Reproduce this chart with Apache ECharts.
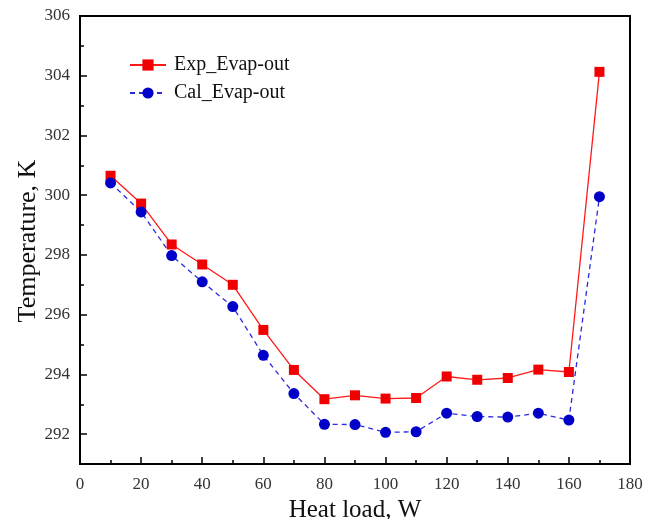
<!DOCTYPE html>
<html><head><meta charset="utf-8">
<script src="https://cdn.jsdelivr.net/npm/echarts@6/dist/echarts.min.js"></script>
<style>html,body{margin:0;padding:0;background:#fff}#c{width:658px;height:519px}</style>
</head><body><div id="c"></div>
<script>
const heatLoad = [10,20,30,40,50,60,70,80,90,100,110,120,130,140,150,160,170];
const expEvapOut = [300.65,299.72,298.35,297.68,297.0,295.49,294.15,293.17,293.30,293.19,293.21,293.93,293.82,293.88,294.16,294.08,304.13];
const calEvapOut = [300.41,299.44,297.98,297.10,296.27,294.64,293.36,292.33,292.32,292.06,292.08,292.70,292.59,292.57,292.70,292.47,299.95];
const yMajorTicks = [292,294,296,298,300,302,304,306];
const yMinorTicks = [291,293,295,297,299,301,303,305];
const xTitle = 'Heat load, W';
const yTitle = 'Temperature, K';
const seriesNames = ['Exp_Evap-out','Cal_Evap-out'];

const FONT = '"Liberation Serif", "Times New Roman", serif';
const chart = echarts.init(document.getElementById('c'));
chart.setOption({
  animation: false,
  backgroundColor: '#fff',
  grid: {left: 80, right: 28, top: 16, bottom: 55, outerBoundsMode: 'none', containLabel: false,
         show: true, borderColor: '#000', borderWidth: 2, backgroundColor: 'transparent'},
  legend: {
    orient: 'vertical', left: 124, top: 50, itemWidth: 36, itemHeight: 14, itemGap: 8,
    textStyle: {fontFamily: FONT, fontSize: 20, color: '#111', padding: [0,0,0,3]},
    data: seriesNames
  },
  xAxis: {
    type: 'value', min: 0, max: 180, interval: 20,
    name: xTitle, nameLocation: 'middle', nameGap: 32,
    nameTextStyle: {fontFamily: FONT, fontSize: 25, color: '#111'},
    axisLine: {lineStyle: {color: '#000', width: 2}},
    axisTick: {inside: true, length: 7, lineStyle: {color: '#000', width: 1.5}},
    minorTick: {show: true, splitNumber: 2, length: 4, lineStyle: {color: '#000', width: 1.5}},
    splitLine: {show: false},
    axisLabel: {fontFamily: FONT, fontSize: 17, color: '#333', margin: 12}
  },
  yAxis: [{
    type: 'value', min: 291, max: 306,
    axisLine: {lineStyle: {color: '#000', width: 2}},
    axisTick: {inside: true, length: 7, customValues: yMajorTicks, lineStyle: {color: '#000', width: 1.5}},
    splitLine: {show: false},
    axisLabel: {fontFamily: FONT, fontSize: 17, color: '#333', margin: 10, customValues: yMajorTicks}
  },{
    type: 'value', min: 291, max: 306, position: 'left',
    axisLine: {show: false},
    axisTick: {inside: true, length: 4, customValues: yMinorTicks, lineStyle: {color: '#000', width: 1.5}},
    splitLine: {show: false},
    axisLabel: {show: false}
  }],
  graphic: [{
    type: 'text', x: 28, y: 241, rotation: Math.PI/2,
    style: {text: yTitle, font: '26px ' + FONT, fill: '#111', align: 'center', verticalAlign: 'middle'}
  }],
  series: [{
    name: seriesNames[0], type: 'line',
    data: heatLoad.map((x,i)=>[x, expEvapOut[i]]),
    symbol: 'rect', symbolSize: 10,
    itemStyle: {color: '#f00000'},
    lineStyle: {color: '#ff1a1a', width: 1.3}
  },{
    name: seriesNames[1], type: 'line',
    data: heatLoad.map((x,i)=>[x, calEvapOut[i]]),
    symbol: 'circle', symbolSize: 11,
    itemStyle: {color: '#0000c8'},
    lineStyle: {color: '#2a2ae0', width: 1.3, type: [5,4]}
  }]
});
</script></body></html>
